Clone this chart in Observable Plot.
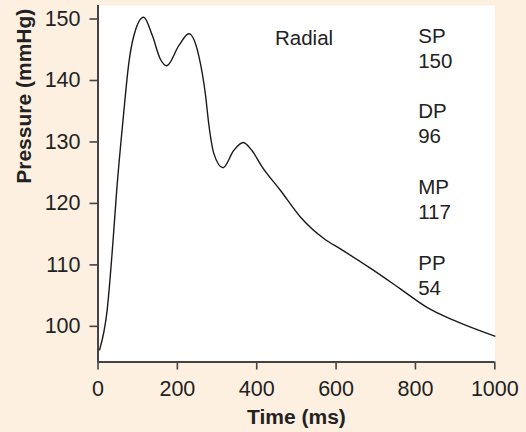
<!DOCTYPE html>
<html>
<head>
<meta charset="utf-8">
<script src="https://cdn.jsdelivr.net/npm/d3@7"></script>
<script src="https://cdn.jsdelivr.net/npm/@observablehq/plot@0.6"></script>
<style>
  html, body { margin: 0; padding: 0; background: #fdf0e0; }
  #chart { width: 526px; height: 432px; }
</style>
</head>
<body>
<div id="chart"></div>
<script>
// Radial pressure waveform
const time = [4, 23, 38, 47, 63, 78, 90, 115, 137, 157, 173, 204, 229, 254, 271, 279, 292, 315, 342, 366, 388, 414, 460, 510, 569, 611, 690, 762, 829, 896, 1000];
const pressure = [96.2, 102.6, 114, 122, 133.5, 143, 147.2, 150.3, 147.3, 143.5, 142.4, 145.7, 147.6, 144, 137.6, 133, 128.1, 125.8, 128.6, 129.9, 128.6, 125.9, 122.1, 117.8, 114.3, 112.6, 109.3, 106.1, 103.1, 101, 98.4];

const xTicks = [0, 200, 400, 600, 800, 1000];
const yTicks = [100, 110, 120, 130, 140, 150];

const siteLabel = "Radial";
const measureNames = ["SP", "DP", "MP", "PP"];
const measureValues = [150, 96, 117, 54];

const xTitle = "Time (ms)";
const yTitle = "Pressure (mmHg)";

const wave = time.map((t, i) => ({t, p: pressure[i]}));
const measures = measureNames.map((n, i) => ({label: n + "\n" + measureValues[i], i}));

const yMin = 94.2, yMax = 152.2;
const font = "Liberation Sans, Arial, Helvetica, sans-serif";
const ink = "#222";

const chart = Plot.plot({
  width: 526,
  height: 432,
  marginLeft: 97.5,
  marginRight: 31.7,
  marginTop: 5,
  marginBottom: 70.5,
  style: {background: "#fdf0e0", fontFamily: font, fontSize: "21px", color: ink},
  x: {domain: [0, 1000]},
  y: {domain: [yMin, yMax]},
  marks: [
    Plot.frame({fill: "white", stroke: "none"}),
    Plot.axisX({ticks: xTicks, tickSize: 8, tickPadding: 11, fontSize: 21.5, fontFamily: font, tickFormat: d => String(d), label: null, stroke: "#444", strokeWidth: 1.6}),
    Plot.axisY({ticks: yTicks, tickSize: 8, text: null, label: null, stroke: "#444", strokeWidth: 1.6}),
    Plot.text(yTicks, {y: d => d, frameAnchor: "left", dx: -17.5, textAnchor: "end", text: d => String(d), fontSize: 21.5, fontFamily: font, fill: ink}),
    Plot.ruleX([0], {stroke: "#444", strokeWidth: 2}),
    Plot.ruleY([yMin], {stroke: "#444", strokeWidth: 2}),
    Plot.line(wave, {x: "t", y: "p", curve: "monotone-x", stroke: "#1a1a1a", strokeWidth: 1.4}),
    Plot.text([siteLabel], {x: 446, y: 146.9, textAnchor: "start", fontSize: 20.5, fontFamily: font, fill: ink}),
    Plot.text(measures, {x: 807, y: d => 145.4 - d.i * 12.3, text: "label", textAnchor: "start", lineHeight: 1.22, fontSize: 20.5, fontFamily: font, fill: ink}),
    Plot.text([xTitle], {frameAnchor: "bottom", dy: 62, fontWeight: "bold", fontSize: 21, fontFamily: font, fill: ink}),
    Plot.text([yTitle], {frameAnchor: "left", rotate: -90, dx: -74, fontWeight: "bold", fontSize: 21, fontFamily: font, fill: ink})
  ]
});
document.getElementById("chart").appendChild(chart);
</script>
</body>
</html>
